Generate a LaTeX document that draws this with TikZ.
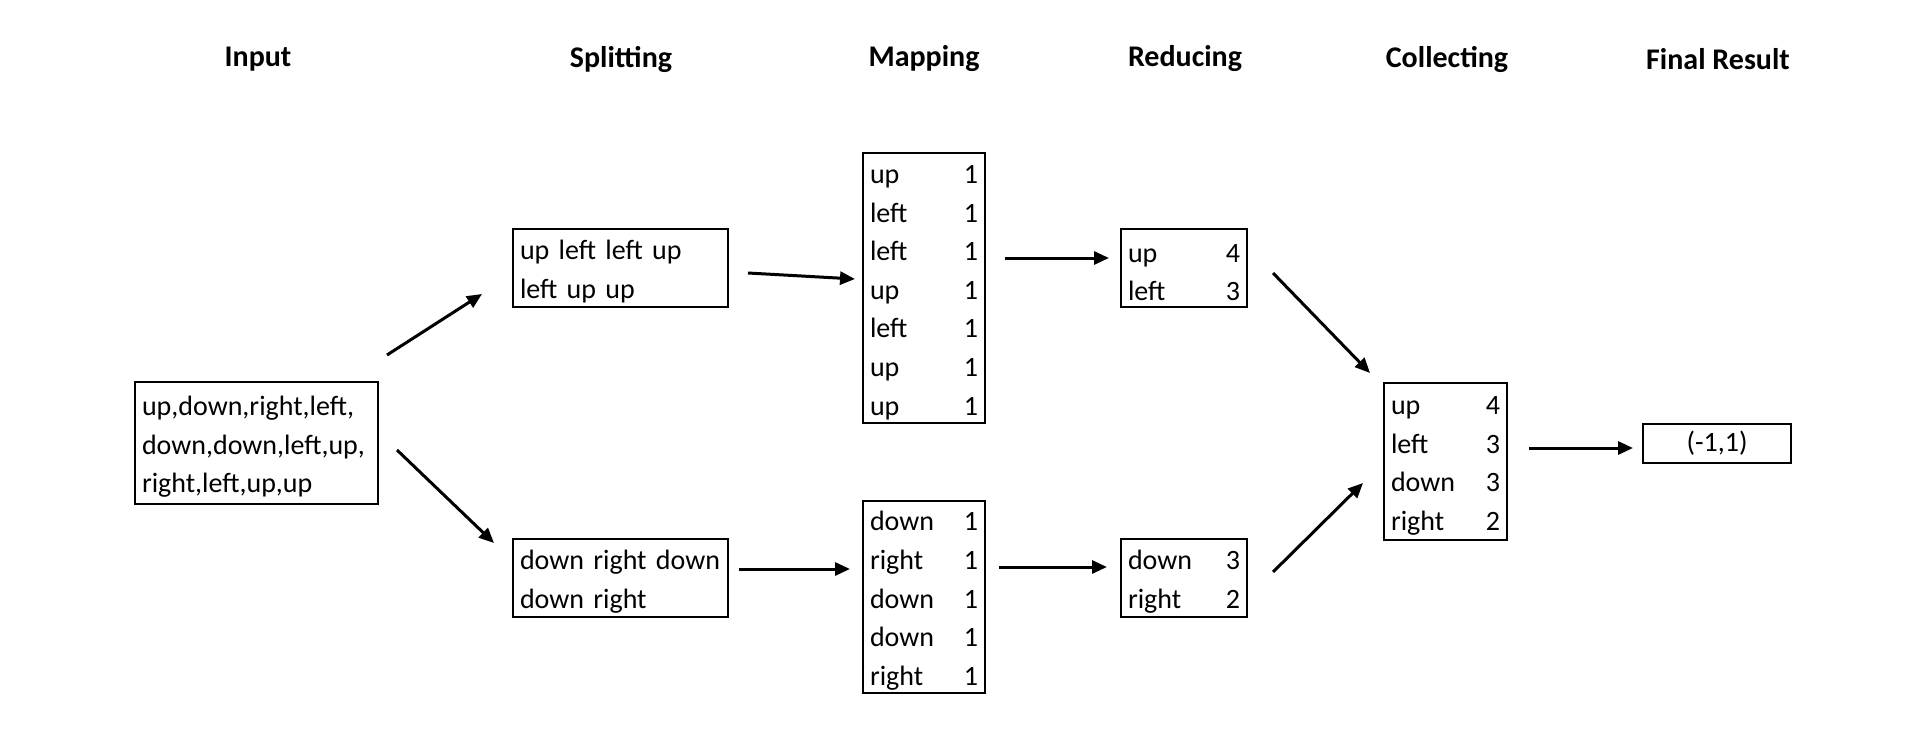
\documentclass[tikz,border=0pt]{standalone}
\usepackage{fontspec}
\setmainfont{Carlito}
\usetikzlibrary{arrows.meta}
\newcommand{\wc}[2]{\makebox[\linewidth][l]{#1\hfill#2}}

\begin{document}
\begin{tikzpicture}[x=0.5pt,y=-0.5pt,
box/.style={draw,line width=1pt,inner xsep=3.5pt,inner ysep=0pt,align=left,font=\fontsize{14}{19.3}\selectfont,execute at begin node=\strut},
head/.style={font=\bfseries\fontsize{15}{18}\selectfont},
arr/.style={-{Triangle[length=7.5pt,width=6.5pt]},line width=1.5pt}
]
\useasboundingbox (0,0) rectangle (1927,733);
% stage titles
\node[head] (tin) at (258,59) {Input};
\node[head] (tsp) at (621,59) {Splitting};
\node[head] (tmp) at (924,59) {Mapping};
\node[head] (trd) at (1185,59) {Reducing};
\node[head] (tcl) at (1447,59) {Collecting};
\node[head] (tfin) at (1718,59) {Final Result};
% boxes
\node[box,text width=114.5pt,minimum height=61pt] (inp) at (256.5,443) {up,down,right,left,\\down,down,left,up,\\right,left,up,up};
\node[box,text width=100.5pt,minimum height=39pt] (sp1) at (620.5,268) {up left left up\\left up up};
\node[box,text width=100.5pt,minimum height=39pt] (sp2) at (620.5,578) {down right down\\down right};
\node[box,text width=54pt,minimum height=135pt] (mp1) at (924,288) {\wc{up}{1}\\\wc{left}{1}\\\wc{left}{1}\\\wc{up}{1}\\\wc{left}{1}\\\wc{up}{1}\\\wc{up}{1}};
\node[box,text width=54pt,minimum height=96pt] (mp2) at (924,597) {\wc{down}{1}\\\wc{right}{1}\\\wc{down}{1}\\\wc{down}{1}\\\wc{right}{1}};
\node[box,text width=56pt,minimum height=39pt] (rd1) at (1184,268) {\wc{up}{4}\\\wc{left}{3}};
\node[box,text width=56pt,minimum height=39pt] (rd2) at (1184,578) {\wc{down}{3}\\\wc{right}{2}};
\node[box,text width=54.5pt,minimum height=78.5pt] (cl) at (1445.5,461.5) {\wc{up}{4}\\\wc{left}{3}\\\wc{down}{3}\\\wc{right}{2}};
\node[box,text width=67pt,minimum height=19pt,align=center] (fin) at (1717,443.5) {(-1,1)};
% arrow ends
\coordinate (a1s) at (387,355);  \coordinate (a1e) at (482,294);
\coordinate (a2s) at (397,450);  \coordinate (a2e) at (494,543);
\coordinate (a3s) at (748,273);  \coordinate (a3e) at (855,279);
\coordinate (a4s) at (739,569);  \coordinate (a4e) at (850,569);
\coordinate (a5s) at (1005,258); \coordinate (a5e) at (1109,258);
\coordinate (a6s) at (999,567);  \coordinate (a6e) at (1107,567);
\coordinate (a7s) at (1273,273); \coordinate (a7e) at (1370,373);
\coordinate (a8s) at (1273,572); \coordinate (a8e) at (1363,483);
\coordinate (a9s) at (1529,448); \coordinate (a9e) at (1633,448);
\draw[arr] (a1s) -- (a1e);
\draw[arr] (a2s) -- (a2e);
\draw[arr] (a3s) -- (a3e);
\draw[arr] (a4s) -- (a4e);
\draw[arr] (a5s) -- (a5e);
\draw[arr] (a6s) -- (a6e);
\draw[arr] (a7s) -- (a7e);
\draw[arr] (a8s) -- (a8e);
\draw[arr] (a9s) -- (a9e);
\end{tikzpicture}
\end{document}
